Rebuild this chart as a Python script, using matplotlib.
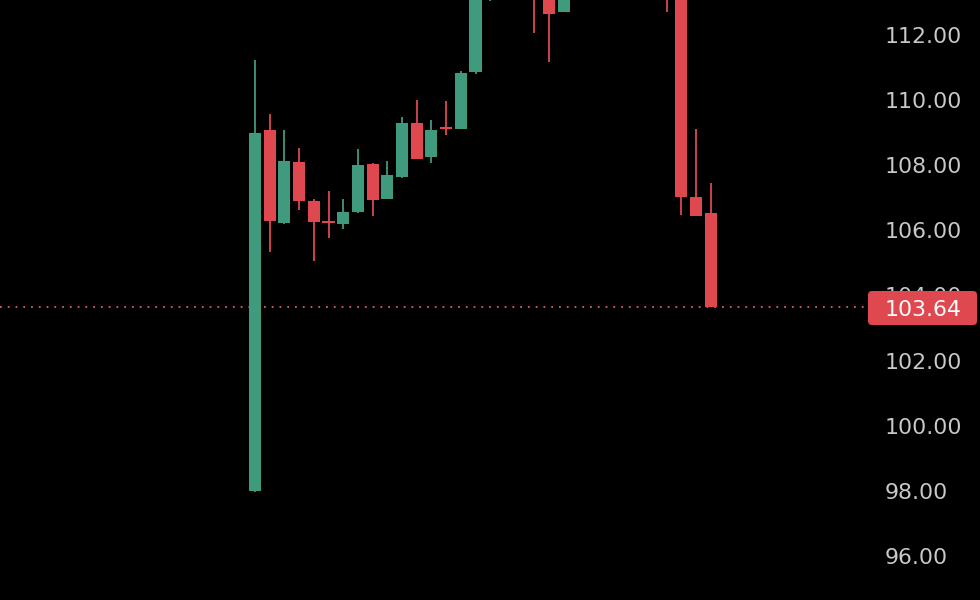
import matplotlib
matplotlib.use("Agg")
import matplotlib.pyplot as plt
from matplotlib.patches import FancyBboxPatch, Rectangle
import numpy as np

# ---- data (index = candle position) ----
opens  = [97.98, 109.09, 106.24, 108.10, 106.89, 106.28, 106.19, 106.56, 108.05, 106.95,
          107.64, 109.31, 108.24, 109.16, 109.11, 110.85, 113.70, 114.40, 115.00, 114.30,
          113.50, 112.71, 113.60, 114.20, 114.80, 115.30, 115.00, 114.60, 114.40, 114.10,
          107.03, 106.53]
closes = [109.00, 106.29, 108.13, 106.89, 106.26, 106.22, 106.57, 108.01, 106.94, 107.71,
          109.30, 108.20, 109.09, 109.10, 110.84, 113.60, 114.30, 115.00, 114.40, 113.60,
          112.65, 113.60, 114.20, 114.80, 115.30, 115.00, 114.60, 114.40, 114.20, 107.01,
          106.45, 103.64]
highs  = [111.23, 109.58, 109.09, 108.53, 106.95, 107.21, 106.97, 108.50, 108.08, 108.13,
          109.48, 110.00, 109.39, 109.98, 110.90, 113.90, 114.60, 115.30, 115.40, 114.80,
          113.90, 113.90, 114.50, 115.10, 115.60, 115.70, 115.30, 114.90, 114.80, 114.40,
          109.11, 107.46]
lows   = [97.95, 105.35, 106.20, 106.61, 105.05, 105.78, 106.05, 106.53, 106.43, 106.95,
          107.60, 108.18, 108.06, 108.92, 109.11, 110.80, 113.03, 114.00, 114.20, 112.07,
          111.18, 112.71, 113.50, 114.00, 114.60, 114.70, 114.30, 114.10, 112.71, 106.48,
          106.45, 103.64]
last_price = 103.64
tick_values = [96, 98, 100, 102, 104, 106, 108, 110, 112]
tick_labels = ["96.00", "98.00", "100.00", "102.00", "104.00", "106.00", "108.00", "110.00", "112.00"]

GREEN = "#3f9a7e"
RED = "#e04850"

W, H = 980, 600
fig = plt.figure(figsize=(W / 100, H / 100), dpi=100, facecolor="black")
ax = fig.add_axes([0, 0, 1, 1])
ax.set_facecolor("black")
for s in ax.spines.values():
    s.set_visible(False)
ax.set_xticks([])
ax.set_yticks([])

# scales: x pixel = 255 + 14.7*i ; y pixel = 35 + (112 - v)*32.56
px_per_idx = 14.7
x0_idx = -255 / px_per_idx
x1_idx = (W - 255) / px_per_idx
ppu = 32.56
y_top = 112 + 35 / ppu
y_bot = 112 - (H - 35) / ppu
ax.set_xlim(x0_idx, x1_idx)
ax.set_ylim(y_bot, y_top)

body_w = 0.82
for i, (o, c, h, l) in enumerate(zip(opens, closes, highs, lows)):
    col = GREEN if c >= o else RED
    ax.vlines(i, l, h, color=col, linewidth=1.3, zorder=2)
    lo, hi = min(o, c), max(o, c)
    ax.add_patch(Rectangle((i - body_w / 2, lo), body_w, max(hi - lo, 0.06),
                           facecolor=col, edgecolor="none", zorder=3))

# last price dotted line
ax.axhline(last_price, xmin=0, xmax=866 / W, color="#e05868",
           linewidth=1.3, linestyle=(0, (1.0, 3.3)), zorder=1)

# price axis labels
tr = ax.get_yaxis_transform()
for v, lab in zip(tick_values, tick_labels):
    ax.text(885 / W, v, lab, transform=tr, ha="left", va="center_baseline",
            color="#c9c9c9", fontsize=15.8, family="DejaVu Sans", zorder=4)

# last price tag
box = FancyBboxPatch((8.68, (H - 325) / 100), 1.09, 0.34,
                     boxstyle="round,pad=0,rounding_size=0.04",
                     transform=fig.dpi_scale_trans, facecolor=RED,
                     edgecolor="none", zorder=5)
fig.patches.append(box)
fig.text(885 / W, 1 - 308 / H, f"{last_price:.2f}", ha="left", va="center_baseline",
         color="white", fontsize=15.8, family="DejaVu Sans", zorder=6)

fig.savefig("out.png", dpi=100, facecolor="black")
